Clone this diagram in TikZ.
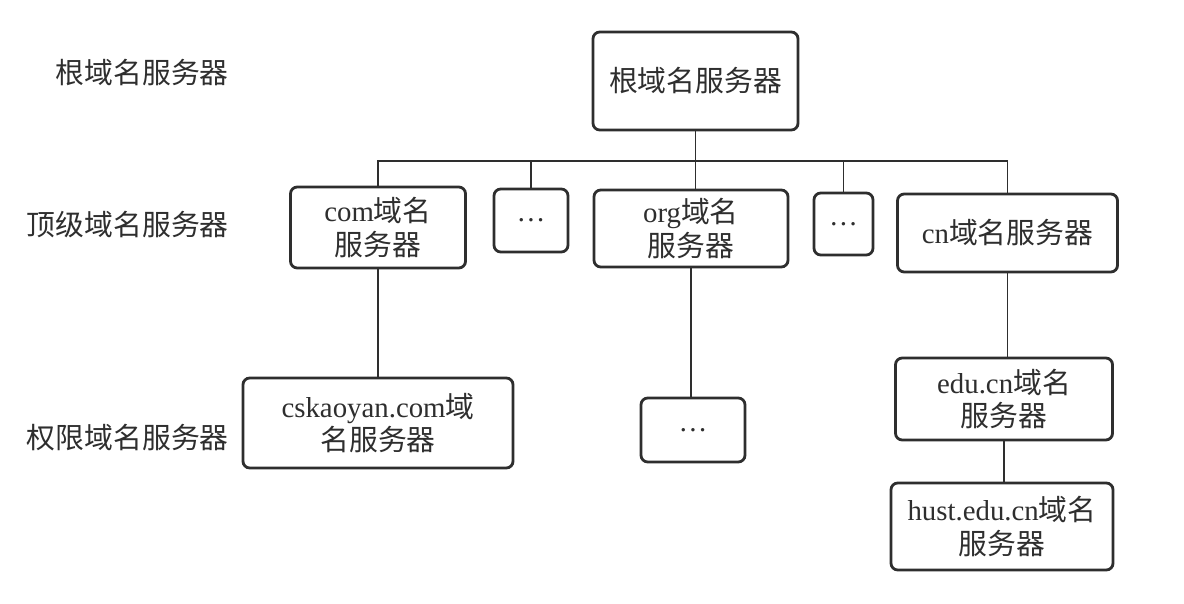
\documentclass[tikz,border=0pt]{standalone}
\usepackage{fontspec}
\setmainfont{Liberation Serif}
\newfontfamily\cjk{Noto Sans CJK SC}
\newcommand\zh[1]{{\cjk #1}}
\definecolor{ink}{HTML}{2E2E2E}
\begin{document}
\begin{tikzpicture}[x=0.025cm,y=-0.025cm,
  srv/.style={draw=ink, line width=2pt, rounded corners=0.17cm, align=center,
    inner sep=0pt, text=ink, font=\fontsize{20.5}{23.5}\selectfont},
  link/.style={draw=ink, line width=1.3pt},
  tier/.style={anchor=east, inner sep=0pt, text=ink, font=\fontsize{20.5}{23.5}\selectfont\cjk}]
\useasboundingbox (0,0) rectangle (1184,604);

% tier captions
\node[tier] (t1) at (229,73)  {根域名服务器};
\node[tier] (t2) at (229,225) {顶级域名服务器};
\node[tier] (t3) at (229,438) {权限域名服务器};

% root level
\node[srv, minimum width=5.125cm, minimum height=2.45cm] (root) at (695.5,81) {\zh{根域名服务器}};

% top-level domains
\node[srv, minimum width=4.375cm, minimum height=2.025cm] (com) at (378,227.5) {com\zh{域名}\\\zh{服务器}};
\node[srv, minimum width=1.85cm, minimum height=1.575cm] (dotsa) at (531,220.5) {\textellipsis};
\node[srv, minimum width=4.85cm, minimum height=1.925cm] (org) at (691,228.5) {org\zh{域名}\\\zh{服务器}};
\node[srv, minimum width=1.475cm, minimum height=1.55cm] (dotsb) at (843.5,224) {\textellipsis};
\node[srv, minimum width=5.5cm, minimum height=1.95cm] (cn) at (1007.5,233) {cn\zh{域名服务器}};

% authoritative level
\node[srv, minimum width=6.75cm, minimum height=2.25cm] (csk) at (378,423) {cskaoyan.com\zh{域}\\\zh{名服务器}};
\node[srv, minimum width=2.6cm, minimum height=1.6cm] (dotsc) at (693,430) {\textellipsis};
\node[srv, minimum width=5.425cm, minimum height=2.05cm] (edu) at (1004,399) {edu.cn\zh{域名}\\\zh{服务器}};
\node[srv, minimum width=5.55cm, minimum height=2.175cm] (hust) at (1002,526.5) {hust.edu.cn\zh{域名}\\\zh{服务器}};

% connectors
\coordinate (bus) at (695.5,161);
\draw[link] (root.south) -- (root.south |- org.north);
\draw[link] (com.north) |- (bus) -| (cn.north);
\draw[link] (dotsa.north) -- (dotsa.north |- bus);
\draw[link] (dotsb.north) -- (dotsb.north |- bus);
\draw[link] (com.south) -- (com.south |- csk.north);
\draw[link] (org.south) -- (org.south |- dotsc.north);
\draw[link] (cn.south) -- (cn.south |- edu.north);
\draw[link] (edu.south) -- (edu.south |- hust.north);
\end{tikzpicture}
\end{document}
